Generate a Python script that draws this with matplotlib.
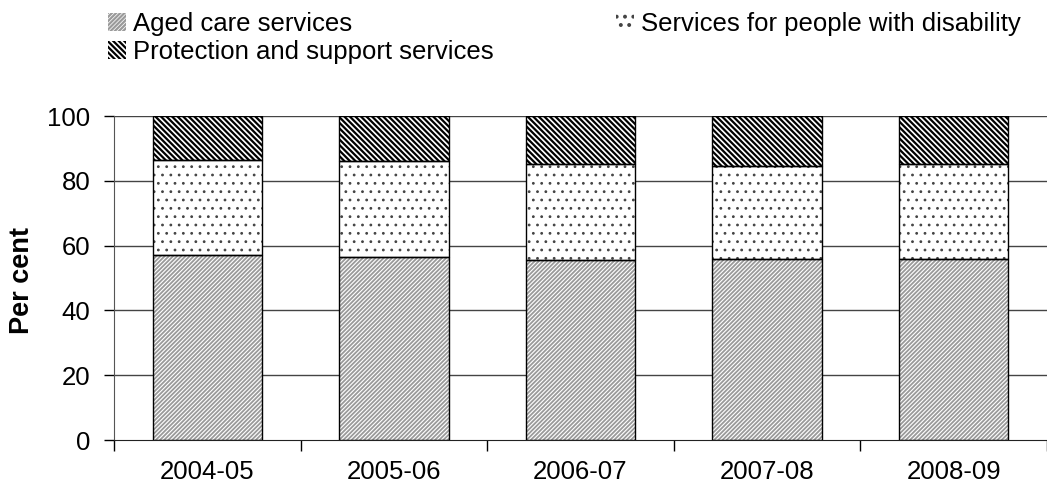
import matplotlib
matplotlib.use("Agg")
import matplotlib.pyplot as plt
import numpy as np
from matplotlib.patches import Patch

plt.rcParams['font.family'] = ['Liberation Sans', 'DejaVu Sans']

years = ["2004-05", "2005-06", "2006-07", "2007-08", "2008-09"]
aged_care = [57.0, 56.6, 55.6, 56.0, 56.0]
disability = [29.4, 29.4, 29.5, 28.6, 29.1]
protection = [13.6, 14.0, 14.9, 15.4, 14.9]

series_names = ["Aged care services", "Services for people with disability",
                "Protection and support services"]

FS = 18.5

fig = plt.figure(figsize=(10.47, 4.88), dpi=100)
ax = fig.add_axes([114/1047, 1-440/488, 1-114/1047, (440-116)/488])

x = np.arange(len(years))
w = 0.587
a = np.array(aged_care)
d = np.array(disability)
p = np.array(protection)

for y in [20, 40, 60, 80, 100]:
    ax.axhline(y, color='#444444', lw=1.0, zorder=0)

styles = [
    (a, np.zeros_like(a), '////////', '#9a9a9a', 1.3),
    (d, a, '..', '#444444', 0.8),
    (p, a + d, '\\\\\\\\\\\\', '#000000', 1.6),
]
legend_handles = []
for vals, bottom, hatch, hc, hlw in styles:
    plt.rcParams['hatch.linewidth'] = hlw
    bars = ax.bar(x, vals, w, bottom=bottom, color='white', edgecolor=hc,
                  hatch=hatch, linewidth=0, zorder=2)
    h = Patch(facecolor='white', edgecolor=hc, hatch=hatch, lw=0)
    for b in list(bars) + [h]:
        if hasattr(b, 'set_hatch_linewidth'):
            b.set_hatch_linewidth(hlw)
    legend_handles.append(h)
    ax.bar(x, vals, w, bottom=bottom, fill=False, edgecolor='black',
           linewidth=1.0, zorder=3)

ax.set_ylim(0, 100)
ax.set_xlim(-0.5, 4.5 - 12/189)
ax.set_yticks([0, 20, 40, 60, 80, 100])
ax.tick_params(axis='y', direction='out', length=7, width=1, pad=10, labelsize=FS)
ax.set_xticks(x)
ax.set_xticklabels(years)
ax.tick_params(axis='x', which='major', length=0, pad=14.4, labelsize=FS)
ax.set_xticks(np.arange(-0.5, 5.0, 1.0), minor=True)
ax.tick_params(axis='x', which='minor', direction='out', length=8, width=1)

for s in ['top', 'right']:
    ax.spines[s].set_visible(False)
ax.spines['left'].set_color('#555555')
ax.spines['bottom'].set_color('#222222')

fig.text(22/1047, 1-281/488, "Per cent", rotation=90, ha='center', va='center',
         fontsize=19.5, fontweight='bold')

handles = [legend_handles[0], legend_handles[2], legend_handles[1]]
labels = [series_names[0], series_names[2], series_names[1]]
fig.legend(handles, labels, ncol=2, loc='upper left',
           bbox_to_anchor=(108/1047, 1-12/488), frameon=False, fontsize=FS,
           handlelength=0.7, handleheight=0.7, handletextpad=0.27,
           columnspacing=4.75, labelspacing=0.15, borderaxespad=0.0,
           borderpad=0.0)

fig.savefig("out.png", dpi=100)
